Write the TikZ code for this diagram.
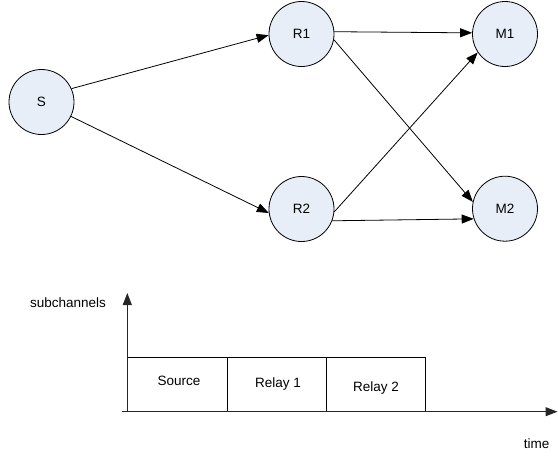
\documentclass[tikz,border=0pt]{standalone}
\usepackage{fontspec}
\setmainfont{Liberation Sans}
\usetikzlibrary{arrows.meta}
\definecolor{nodefill}{RGB}{232,238,247}
\tikzset{
	station/.style={circle, draw=black, fill=nodefill, line width=0.8pt, minimum size=65pt, inner sep=0pt},
	link/.style={line width=0.8pt, -{Triangle[length=12pt,width=9pt]}},
	axis/.style={line width=1pt, draw=black!85, -{Triangle[length=12pt,width=9pt]}}
}

\begin{document}
\begin{tikzpicture}[x=1pt, y=-1pt, font=\fontsize{13.5}{15}\selectfont]
			\useasboundingbox (0, 0) rectangle (558, 456);
			%%%%% START %%%%%
			\node[station] (S) at (41.5, 102) {S};
			\node[station] (R1) at (301.5, 34) {R1};
			\node[station] (R2) at (301.5, 209) {R2};
			\node[station] (M1) at (505, 34) {M1};
			\node[station] (M2) at (505, 208.7) {M2};
			
			\draw[link] (S.24) -- (R1.182);
			\draw[link] (S.-26) -- (R2.187);
			\draw[link] (R1.4) -- (M1.178);
			\draw[link] (R1.-10) -- (M2.168);
			\draw[link] (R2.-5) -- (M1.214);
			\draw[link] (R2.-21) -- (M2.198);
			
			% time slots
			\draw[line width=0.8pt] (127.3, 411.7) rectangle (227, 357.3);
			\draw[line width=0.8pt] (227, 411.7) rectangle (326, 357.3);
			\draw[line width=0.8pt] (326, 411.7) rectangle (425.7, 357.3);
			\node (src) at (179, 381) {Source};
			\node (rly1) at (278, 384) {Relay 1};
			\node (rly2) at (376, 388) {Relay 2};
			
			\coordinate (orig) at (127.3, 411.7);
			\coordinate (ytop) at (127.3, 293);
			\coordinate (xstart) at (121.7, 411.7);
			\coordinate (xend) at (557.5, 411.7);
			\draw[axis] (orig) -- (ytop);
			\draw[axis] (xstart) -- (xend);
			\node (sub) at (68, 302.6) {subchannels};
			\node (time) at (536.7, 444) {time};
			%%%%% END %%%%%
		\end{tikzpicture}
\end{document}
